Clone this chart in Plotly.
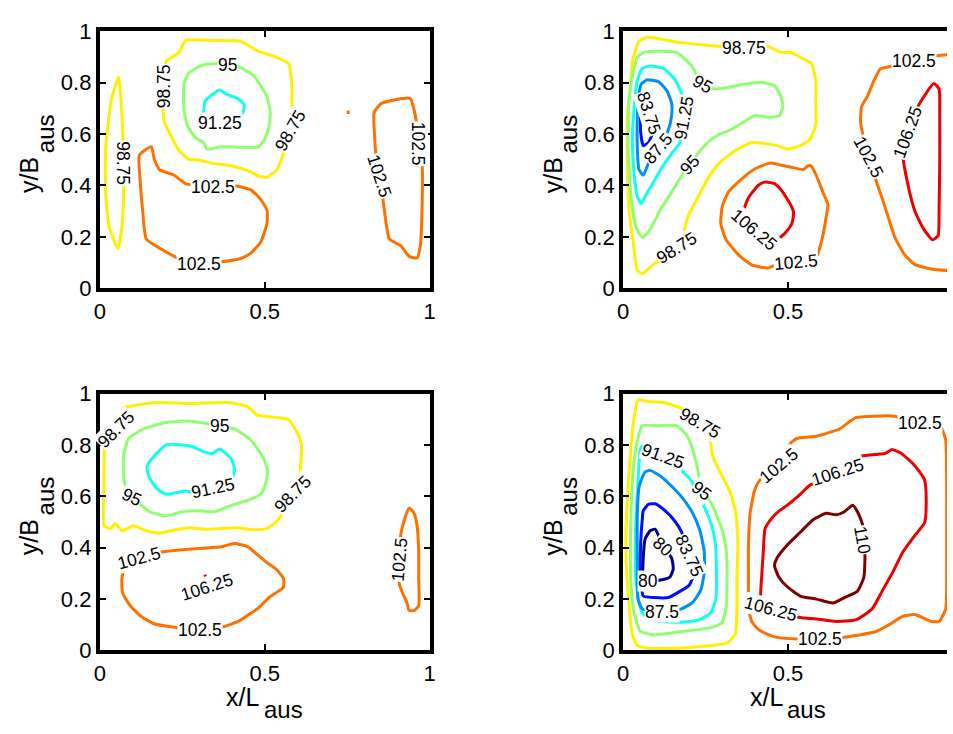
import plotly.graph_objects as go

# ---------------- data ----------------
LEVELS = [80, 83.75, 87.5, 91.25, 95, 98.75, 102.5, 106.25, 110]
LEVEL_COLORS = ['rgb(0,0,143)', 'rgb(0,16,255)', 'rgb(0,143,255)', 'rgb(16,255,239)',
                'rgb(143,255,112)', 'rgb(255,239,0)', 'rgb(255,112,0)', 'rgb(239,0,0)', 'rgb(128,0,0)']
X_TICKS = [0, 0.5, 1]
X_TICK_LABELS = ['0', '0.5', '1']
Y_TICKS = [0, 0.2, 0.4, 0.6, 0.8, 1]
Y_TICK_LABELS = ['0', '0.2', '0.4', '0.6', '0.8', '1']
X_TITLE = 'x/L'
Y_TITLE = 'y/B'
SUB = 'aus'

# ---- top-left panel contours (x/L, y/B) ----
TL_9875_A = [(0.057, 0.822), (0.064, 0.733), (0.071, 0.549), (0.072, 0.364), (0.067, 0.241), (0.055, 0.155),
             (0.028, 0.241), (0.018, 0.364), (0.018, 0.549), (0.035, 0.733)]
TL_9875_B = [(0.201, 0.883), (0.240, 0.918), (0.260, 0.964), (0.349, 0.964), (0.428, 0.961), (0.478, 0.924),
             (0.537, 0.899), (0.572, 0.875), (0.582, 0.795), (0.582, 0.709), (0.578, 0.616), (0.557, 0.524),
             (0.537, 0.462), (0.507, 0.432), (0.478, 0.438), (0.458, 0.453), (0.399, 0.477), (0.339, 0.487),
             (0.300, 0.499), (0.270, 0.502), (0.240, 0.536), (0.216, 0.592), (0.196, 0.647), (0.191, 0.708),
             (0.193, 0.788)]
TL_95 = [(0.255, 0.795), (0.270, 0.838), (0.310, 0.868), (0.359, 0.875), (0.387, 0.872), (0.428, 0.859),
         (0.468, 0.825), (0.507, 0.745), (0.517, 0.684), (0.512, 0.622), (0.497, 0.573), (0.478, 0.549),
         (0.428, 0.549), (0.369, 0.551), (0.324, 0.542), (0.315, 0.567), (0.290, 0.585), (0.265, 0.635),
         (0.255, 0.696)]
TL_9125 = [(0.315, 0.684), (0.319, 0.727), (0.339, 0.752), (0.364, 0.772), (0.384, 0.755), (0.418, 0.739),
           (0.438, 0.715), (0.433, 0.681), (0.409, 0.653), (0.364, 0.645), (0.319, 0.659)]
TL_1025_A = [(0.120, 0.518), (0.156, 0.551), (0.166, 0.499), (0.181, 0.462), (0.226, 0.440), (0.260, 0.407),
             (0.344, 0.395), (0.409, 0.399), (0.458, 0.383), (0.488, 0.346), (0.507, 0.303), (0.507, 0.253),
             (0.488, 0.180), (0.458, 0.137), (0.428, 0.116), (0.369, 0.103), (0.300, 0.096), (0.240, 0.116),
             (0.181, 0.157), (0.141, 0.192), (0.130, 0.303), (0.122, 0.426)]
TL_1025_DOT = [(0.753, 0.692), (0.753, 0.678)]
TL_1025_B = [(0.832, 0.684), (0.852, 0.718), (0.893, 0.733), (0.941, 0.739), (0.962, 0.635), (0.966, 0.561),
             (0.977, 0.487), (0.977, 0.303), (0.972, 0.167), (0.962, 0.118), (0.938, 0.124), (0.913, 0.165),
             (0.878, 0.192), (0.863, 0.303), (0.858, 0.352), (0.849, 0.438), (0.839, 0.499), (0.834, 0.573)]

# ---- top-right panel ----
TR_9875 = [(0.028, 0.881), (0.048, 0.961), (0.072, 0.977), (0.172, 0.957), (0.261, 0.945), (0.365, 0.936),
           (0.439, 0.940), (0.479, 0.918), (0.507, 0.918), (0.546, 0.893), (0.571, 0.875), (0.584, 0.807),
           (0.584, 0.721), (0.584, 0.635), (0.566, 0.579), (0.537, 0.555), (0.497, 0.542), (0.467, 0.555),
           (0.439, 0.561), (0.390, 0.567), (0.340, 0.536), (0.291, 0.487), (0.256, 0.426), (0.226, 0.352),
           (0.196, 0.278), (0.182, 0.210), (0.162, 0.155), (0.092, 0.093), (0.058, 0.057), (0.043, 0.069),
           (0.033, 0.155), (0.018, 0.303), (0.013, 0.487), (0.013, 0.672), (0.023, 0.795)]
TR_95 = [(0.043, 0.899), (0.067, 0.920), (0.162, 0.918), (0.206, 0.868), (0.241, 0.795), (0.276, 0.776),
         (0.320, 0.782), (0.370, 0.795), (0.425, 0.801), (0.459, 0.788), (0.479, 0.745), (0.484, 0.708),
         (0.474, 0.672), (0.439, 0.665), (0.400, 0.672), (0.365, 0.647), (0.325, 0.616), (0.291, 0.598),
         (0.261, 0.573), (0.226, 0.524), (0.201, 0.481), (0.172, 0.426), (0.142, 0.364), (0.112, 0.303),
         (0.082, 0.229), (0.058, 0.198), (0.038, 0.241), (0.023, 0.364), (0.015, 0.548), (0.018, 0.733),
         (0.031, 0.844)]
TR_9125 = [(0.058, 0.856), (0.082, 0.865), (0.122, 0.856), (0.157, 0.813), (0.177, 0.758), (0.186, 0.665),
           (0.172, 0.567), (0.147, 0.524), (0.117, 0.469), (0.092, 0.413), (0.067, 0.358), (0.055, 0.330),
           (0.043, 0.358), (0.033, 0.450), (0.028, 0.573), (0.033, 0.696), (0.043, 0.807)]
TR_875 = [(0.055, 0.795), (0.072, 0.811), (0.107, 0.804), (0.132, 0.770), (0.147, 0.721), (0.147, 0.672),
          (0.137, 0.616), (0.107, 0.545), (0.077, 0.487), (0.061, 0.440), (0.048, 0.462), (0.043, 0.549),
          (0.043, 0.672), (0.048, 0.758)]
TR_8375 = [(0.058, 0.744), (0.070, 0.750), (0.080, 0.684), (0.087, 0.598), (0.077, 0.567), (0.061, 0.555),
           (0.053, 0.610), (0.053, 0.696)]
TR_1025_A = [(0.474, 0.481), (0.444, 0.487), (0.400, 0.465), (0.360, 0.426), (0.320, 0.376), (0.301, 0.321),
             (0.296, 0.253), (0.311, 0.192), (0.350, 0.130), (0.390, 0.091), (0.439, 0.079), (0.467, 0.093),
             (0.525, 0.103), (0.586, 0.124), (0.601, 0.180), (0.616, 0.278), (0.621, 0.327), (0.607, 0.370),
             (0.586, 0.438), (0.571, 0.475), (0.561, 0.477), (0.546, 0.462), (0.507, 0.472)]
TR_10625_A = [(0.365, 0.296), (0.380, 0.352), (0.410, 0.401), (0.430, 0.413), (0.459, 0.407), (0.479, 0.383),
              (0.507, 0.327), (0.517, 0.296), (0.512, 0.253), (0.492, 0.216), (0.472, 0.192), (0.459, 0.173),
              (0.440, 0.155), (0.398, 0.226)]
TR_1025_B = [(1.000, 0.910), (0.953, 0.905), (0.882, 0.884), (0.805, 0.862), (0.780, 0.854), (0.760, 0.807),
             (0.740, 0.745), (0.723, 0.708), (0.720, 0.647), (0.727, 0.598), (0.745, 0.512), (0.765, 0.426),
             (0.785, 0.352), (0.805, 0.272), (0.824, 0.198), (0.854, 0.130), (0.884, 0.093), (0.934, 0.075),
             (0.982, 0.069), (1.000, 0.068)]
TR_10625_B = [(0.849, 0.512), (0.862, 0.610), (0.894, 0.708), (0.942, 0.797), (0.958, 0.776), (0.960, 0.672),
              (0.960, 0.487), (0.958, 0.303), (0.955, 0.204), (0.938, 0.189), (0.909, 0.235), (0.884, 0.303),
              (0.864, 0.401)]

# ---- bottom-left panel ----
BL_9875 = [(0.072, 0.945), (0.050, 0.862), (0.015, 0.782), (0.013, 0.658), (0.013, 0.485), (0.033, 0.475),
           (0.047, 0.494), (0.067, 0.466), (0.102, 0.485), (0.141, 0.466), (0.181, 0.457), (0.230, 0.470),
           (0.270, 0.478), (0.319, 0.472), (0.369, 0.475), (0.418, 0.478), (0.468, 0.470), (0.507, 0.475),
           (0.537, 0.503), (0.557, 0.540), (0.585, 0.608), (0.606, 0.689), (0.611, 0.807), (0.592, 0.862),
           (0.572, 0.899), (0.527, 0.908), (0.478, 0.916), (0.448, 0.949), (0.389, 0.965), (0.270, 0.961),
           (0.171, 0.965), (0.102, 0.953)]
BL_95 = [(0.072, 0.757), (0.087, 0.825), (0.132, 0.862), (0.201, 0.887), (0.270, 0.893), (0.319, 0.884),
         (0.364, 0.875), (0.409, 0.862), (0.453, 0.825), (0.483, 0.776), (0.498, 0.745), (0.509, 0.695),
         (0.502, 0.646), (0.488, 0.608), (0.448, 0.584), (0.399, 0.565), (0.349, 0.540), (0.300, 0.544),
         (0.250, 0.540), (0.201, 0.524), (0.151, 0.540), (0.127, 0.565), (0.097, 0.596), (0.074, 0.658)]
BL_9125 = [(0.143, 0.714), (0.161, 0.751), (0.201, 0.800), (0.250, 0.800), (0.285, 0.792), (0.310, 0.776),
           (0.339, 0.767), (0.364, 0.784), (0.399, 0.745), (0.409, 0.705), (0.401, 0.670), (0.374, 0.652),
           (0.344, 0.631), (0.290, 0.615), (0.260, 0.621), (0.221, 0.611), (0.201, 0.608), (0.171, 0.633),
           (0.149, 0.677)]
BL_1025_A = [(0.186, 0.383), (0.120, 0.361), (0.077, 0.330), (0.067, 0.280), (0.069, 0.224), (0.092, 0.175),
             (0.127, 0.131), (0.166, 0.103), (0.230, 0.090), (0.305, 0.078), (0.369, 0.090), (0.423, 0.115),
             (0.463, 0.150), (0.478, 0.162), (0.513, 0.206), (0.542, 0.231), (0.557, 0.247), (0.557, 0.280),
             (0.537, 0.314), (0.507, 0.342), (0.478, 0.373), (0.448, 0.404), (0.409, 0.416), (0.369, 0.404),
             (0.310, 0.398), (0.250, 0.392)]
BL_10625_DOT = [(0.316, 0.288), (0.324, 0.291)]
BL_1025_B = [(0.938, 0.555), (0.953, 0.534), (0.962, 0.485), (0.967, 0.385), (0.967, 0.286), (0.967, 0.175),
             (0.954, 0.156), (0.938, 0.156), (0.931, 0.187), (0.918, 0.224), (0.908, 0.261), (0.907, 0.354),
             (0.913, 0.454), (0.925, 0.515)]

# ---- bottom-right panel ----
BR_9875 = [(0.045, 0.976), (0.072, 0.970), (0.122, 0.965), (0.172, 0.945), (0.233, 0.884), (0.263, 0.825),
           (0.271, 0.757), (0.296, 0.689), (0.325, 0.615), (0.342, 0.534), (0.348, 0.410), (0.345, 0.286),
           (0.345, 0.162), (0.340, 0.063), (0.315, 0.029), (0.271, 0.020), (0.172, 0.009), (0.072, 0.009),
           (0.043, 0.020), (0.028, 0.063), (0.015, 0.224), (0.008, 0.410), (0.013, 0.596), (0.023, 0.782),
           (0.033, 0.906)]
BR_95 = [(0.058, 0.875), (0.102, 0.875), (0.162, 0.875), (0.191, 0.841), (0.211, 0.782), (0.226, 0.705),
         (0.239, 0.621), (0.266, 0.577), (0.283, 0.528), (0.301, 0.466), (0.313, 0.385), (0.315, 0.261),
         (0.312, 0.162), (0.299, 0.107), (0.261, 0.088), (0.172, 0.073), (0.092, 0.061), (0.051, 0.076),
         (0.031, 0.162), (0.023, 0.286), (0.023, 0.472), (0.028, 0.658), (0.038, 0.782)]
BR_9125 = [(0.055, 0.794), (0.120, 0.757), (0.172, 0.705), (0.201, 0.670), (0.226, 0.619), (0.246, 0.559),
           (0.266, 0.497), (0.279, 0.423), (0.283, 0.311), (0.281, 0.200), (0.266, 0.147), (0.231, 0.119),
           (0.172, 0.110), (0.102, 0.115), (0.062, 0.140), (0.048, 0.187), (0.038, 0.286), (0.038, 0.472),
           (0.045, 0.658), (0.050, 0.757)]
BR_875 = [(0.055, 0.664), (0.067, 0.695), (0.082, 0.701), (0.112, 0.680), (0.147, 0.639), (0.182, 0.590),
          (0.211, 0.534), (0.233, 0.466), (0.246, 0.385), (0.246, 0.305), (0.236, 0.237), (0.211, 0.187),
          (0.177, 0.162), (0.117, 0.150), (0.058, 0.162), (0.045, 0.200), (0.043, 0.349), (0.043, 0.534),
          (0.048, 0.633)]
BR_8375 = [(0.061, 0.544), (0.077, 0.569), (0.097, 0.571), (0.127, 0.544), (0.157, 0.503), (0.177, 0.462),
           (0.201, 0.367), (0.214, 0.299), (0.201, 0.255), (0.172, 0.230), (0.137, 0.206), (0.092, 0.206),
           (0.061, 0.212), (0.053, 0.286), (0.053, 0.410), (0.058, 0.509)]
BR_80 = [(0.067, 0.435), (0.082, 0.466), (0.097, 0.472), (0.122, 0.404), (0.147, 0.360), (0.152, 0.317),
         (0.142, 0.286), (0.122, 0.276), (0.074, 0.270), (0.061, 0.286), (0.061, 0.361)]
BR_1025 = [(0.474, 0.720), (0.502, 0.800), (0.527, 0.825), (0.586, 0.834), (0.656, 0.862), (0.705, 0.906),
           (0.764, 0.912), (0.824, 0.912), (0.899, 0.884), (0.963, 0.869), (0.978, 0.819), (0.981, 0.658),
           (0.981, 0.410), (0.978, 0.162), (0.958, 0.113), (0.934, 0.113), (0.884, 0.140), (0.844, 0.131),
           (0.815, 0.107), (0.765, 0.073), (0.666, 0.051), (0.597, 0.045), (0.527, 0.045), (0.467, 0.051),
           (0.439, 0.063), (0.410, 0.082), (0.390, 0.113), (0.380, 0.162), (0.380, 0.261), (0.380, 0.410),
           (0.385, 0.534), (0.398, 0.621), (0.415, 0.664)]
BR_10625 = [(0.418, 0.206), (0.420, 0.286), (0.425, 0.385), (0.430, 0.472), (0.449, 0.512), (0.474, 0.544),
            (0.497, 0.565), (0.537, 0.608), (0.566, 0.643), (0.651, 0.693), (0.715, 0.755), (0.765, 0.763),
            (0.795, 0.767), (0.815, 0.782), (0.844, 0.767), (0.884, 0.720), (0.914, 0.664), (0.919, 0.584),
            (0.914, 0.497), (0.884, 0.447), (0.849, 0.385), (0.820, 0.311), (0.785, 0.230), (0.755, 0.162),
            (0.705, 0.119), (0.646, 0.113), (0.586, 0.123), (0.537, 0.128), (0.449, 0.162)]
BR_110 = [(0.459, 0.330), (0.467, 0.361), (0.497, 0.410), (0.537, 0.460), (0.576, 0.509), (0.616, 0.534),
          (0.646, 0.528), (0.671, 0.540), (0.696, 0.565), (0.713, 0.534), (0.727, 0.485), (0.725, 0.429),
          (0.733, 0.373), (0.730, 0.286), (0.710, 0.230), (0.671, 0.206), (0.636, 0.185), (0.586, 0.200),
          (0.537, 0.212), (0.497, 0.249), (0.472, 0.286)]

# contour lists: (level, points, closed)
TL_CONTOURS = [(98.75, TL_9875_A, True), (98.75, TL_9875_B, True), (95, TL_95, True), (91.25, TL_9125, True),
               (102.5, TL_1025_A, True), (102.5, TL_1025_DOT, False), (102.5, TL_1025_B, True)]
TR_CONTOURS = [(98.75, TR_9875, True), (95, TR_95, True), (91.25, TR_9125, True), (87.5, TR_875, True),
               (83.75, TR_8375, True), (102.5, TR_1025_A, True), (106.25, TR_10625_A, True),
               (102.5, TR_1025_B, False), (106.25, TR_10625_B, True)]
BL_CONTOURS = [(98.75, BL_9875, True), (95, BL_95, True), (91.25, BL_9125, True), (102.5, BL_1025_A, True),
               (106.25, BL_10625_DOT, False), (102.5, BL_1025_B, True)]
BR_CONTOURS = [(98.75, BR_9875, True), (95, BR_95, True), (91.25, BR_9125, True), (87.5, BR_875, True),
               (83.75, BR_8375, True), (80, BR_80, True), (102.5, BR_1025, True), (106.25, BR_10625, True),
               (110, BR_110, True)]

# contour labels: (level, x, y, angle)
TL_LABELS = [(98.75, 0.070, 0.487, 90), (98.75, 0.193, 0.788, -90), (95, 0.387, 0.870, 0),
             (91.25, 0.364, 0.645, 0), (98.75, 0.578, 0.616, -60), (102.5, 0.344, 0.395, 0),
             (102.5, 0.300, 0.096, 0), (102.5, 0.963, 0.561, 90), (102.5, 0.849, 0.438, 72)]
TR_LABELS = [(98.75, 0.365, 0.936, 0), (95, 0.241, 0.795, 30), (91.25, 0.186, 0.665, -80),
             (83.75, 0.080, 0.684, 72), (87.5, 0.107, 0.545, -50), (95, 0.201, 0.481, -48),
             (98.75, 0.162, 0.155, -32), (106.25, 0.398, 0.226, 40), (102.5, 0.525, 0.103, -5),
             (102.5, 0.882, 0.884, 0), (102.5, 0.745, 0.512, 62), (106.25, 0.862, 0.610, -70)]
BL_LABELS = [(98.75, 0.050, 0.862, -45), (95, 0.364, 0.875, 0), (95, 0.097, 0.596, 25),
             (91.25, 0.344, 0.631, -12), (98.75, 0.585, 0.608, -45), (102.5, 0.120, 0.361, -15),
             (106.25, 0.324, 0.248, -18), (102.5, 0.305, 0.078, 0), (102.5, 0.907, 0.354, -85)]
BR_LABELS = [(98.75, 0.233, 0.884, 30), (91.25, 0.120, 0.757, 20), (95, 0.239, 0.621, 38),
             (83.75, 0.201, 0.367, 65), (80, 0.122, 0.404, 42), (80, 0.074, 0.270, 0),
             (87.5, 0.117, 0.150, 0), (102.5, 0.474, 0.720, -40), (106.25, 0.651, 0.693, -18),
             (102.5, 0.899, 0.884, 0), (110, 0.725, 0.429, 80), (106.25, 0.449, 0.162, 15),
             (102.5, 0.597, 0.045, 0)]

# ---------------- layout geometry (pixels) ----------------
W, H = 953, 734
FONT = 'Liberation Sans, Arial, sans-serif'
LEFT_X = (95, 429)
RIGHT_X0 = 625
PX_PER_UNIT = LEFT_X[1] - LEFT_X[0]
TOP_Y = (20, 286)
BOT_Y = (395, 661)

panels = [
    ('x', 'y', LEFT_X, TOP_Y, True, TL_CONTOURS, TL_LABELS),
    ('x2', 'y2', (RIGHT_X0, W), TOP_Y, False, TR_CONTOURS, TR_LABELS),
    ('x3', 'y3', LEFT_X, BOT_Y, True, BL_CONTOURS, BL_LABELS),
    ('x4', 'y4', (RIGHT_X0, W), BOT_Y, False, BR_CONTOURS, BR_LABELS),
]

color_of = dict(zip(LEVELS, LEVEL_COLORS))

fig = go.Figure()
layout = dict(width=W, height=H, margin=dict(l=0, r=0, t=0, b=0, pad=0), paper_bgcolor='white',
              plot_bgcolor='white', showlegend=False, annotations=[])


def paper_text(px, py, text, size, angle=0):
    return dict(x=px / W, y=1 - py / H, xref='paper', yref='paper', xanchor='center', yanchor='middle',
                text=text, showarrow=False, textangle=angle,
                font=dict(family=FONT, size=size, color='black'))


for xa, ya, (px0, px1), (py0, py1), full, contours, labels in panels:
    for level, pts, closed in contours:
        xs = [p[0] for p in pts]
        ys = [p[1] for p in pts]
        if closed:
            xs.append(xs[0])
            ys.append(ys[0])
        fig.add_trace(go.Scatter(x=xs, y=ys, xaxis=xa, yaxis=ya, mode='lines',
                                 line=dict(color=color_of[level], width=3, shape='spline', smoothing=0.5),
                                 hoverinfo='skip', showlegend=False))
    for level, lx, ly, ang in labels:
        layout['annotations'].append(dict(
            x=lx, y=ly, xref=xa, yref=ya, xanchor='center', yanchor='middle',
            text='%g' % level, showarrow=False, textangle=ang,
            font=dict(family=FONT, size=17.5, color='black'), bgcolor='white', borderpad=0))

    xrange_end = 1.0 if full else (px1 - px0) / PX_PER_UNIT
    axis_base = dict(showgrid=False, zeroline=False, showline=True, linecolor='black', linewidth=4,
                     ticks='inside', ticklen=6, tickwidth=2, tickcolor='black',
                     tickfont=dict(family=FONT, size=22, color='black'), fixedrange=True)
    xkey = 'xaxis' + xa[1:]
    ykey = 'yaxis' + ya[1:]
    layout[xkey] = dict(axis_base, domain=[px0 / W, px1 / W], range=[0, xrange_end], anchor=ya,
                        tickvals=X_TICKS, ticktext=X_TICK_LABELS, mirror='ticks')
    layout[ykey] = dict(axis_base, domain=[1 - py1 / H, 1 - py0 / H], range=[0, 1], anchor=xa,
                        tickvals=Y_TICKS, ticktext=Y_TICK_LABELS, mirror='ticks' if full else False)

    # y-axis title (rotated) with subscript
    ycen = (py0 + py1) / 2
    layout['annotations'].append(paper_text(px0 - 71, ycen + 16, Y_TITLE, 25, -90))
    layout['annotations'].append(paper_text(px0 - 55, ycen - 27, SUB, 24, -90))
    if py0 == BOT_Y[0]:
        xc = px0 + 0.5 * PX_PER_UNIT
        layout['annotations'].append(paper_text(xc - 22, 709, X_TITLE, 25))
        layout['annotations'].append(paper_text(xc + 19, 722, SUB, 24))

fig.update_layout(**layout)
fig.write_html('out.html')
